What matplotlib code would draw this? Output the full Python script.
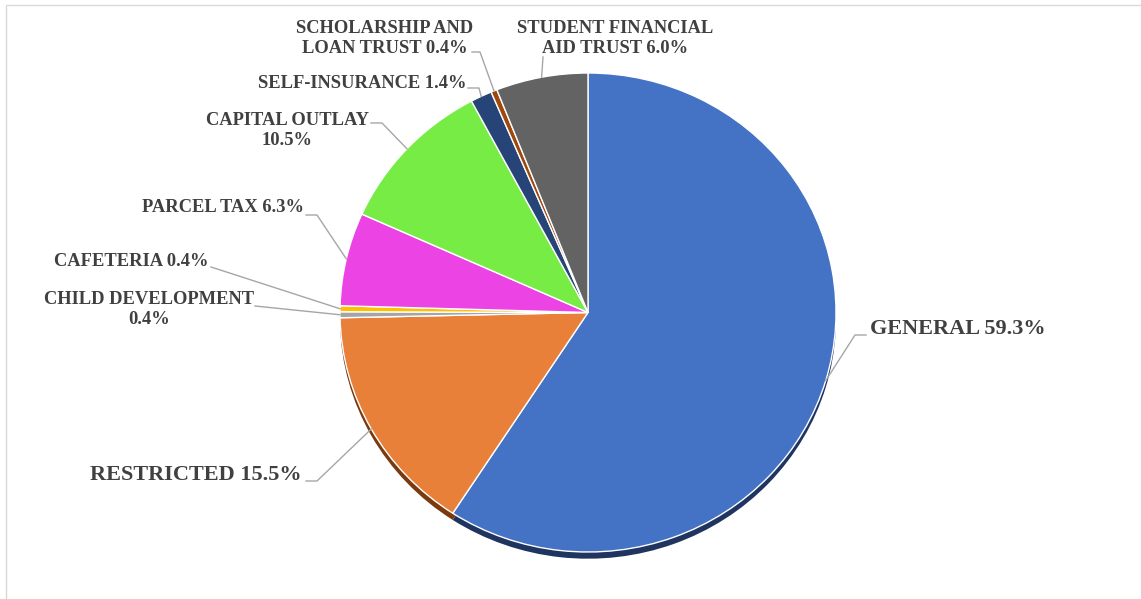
import numpy as np
import matplotlib
matplotlib.use('Agg')
import matplotlib.pyplot as plt
from matplotlib.patches import Rectangle

# fund shares (%), clockwise from 12 o'clock
funds = ['GENERAL', 'RESTRICTED', 'CHILD DEVELOPMENT', 'CAFETERIA', 'PARCEL TAX',
         'CAPITAL OUTLAY', 'SELF-INSURANCE', 'SCHOLARSHIP AND\nLOAN TRUST',
         'STUDENT FINANCIAL\nAID TRUST']
shares = [59.3, 15.5, 0.4, 0.4, 6.3, 10.5, 1.4, 0.4, 6.0]
breaks = [' ', ' ', '\n', ' ', ' ', '\n', ' ', ' ', ' ']

colors = ['#4472C4', '#E8803A', '#A5A5A5', '#FFC000', '#EC44E4',
          '#77EC44', '#264478', '#9E480E', '#636363']
shadow = ['#1F3560', '#7A3A10', '#555555', '#806000', '#761F72',
          '#3B7622', '#13223C', '#4F2407', '#323232']

W, H = 1141, 599
fig = plt.figure(figsize=(W / 100, H / 100), dpi=100)

# pie axes placed on the (slightly flattened) ellipse of the pie
left, right, top, bottom = 340, 836, 73, 552
ax_pie = fig.add_axes([left / W, (H - bottom) / H, (right - left) / W, (bottom - top) / H])
sh, _ = ax_pie.pie(shares, colors=shadow, startangle=90, counterclock=False,
                   center=(0, -0.028), wedgeprops=dict(linewidth=0))
for p in sh:
    p.set_clip_on(False)
wedges, _ = ax_pie.pie(shares, colors=colors, startangle=90, counterclock=False,
                       wedgeprops=dict(edgecolor='white', linewidth=1))
ax_pie.set_aspect('auto')
ax_pie.set_xlim(-1, 1)
ax_pie.set_ylim(-1, 1)
ax_pie.axis('off')

# overlay in pixel coordinates for labels and leader lines
ax = fig.add_axes([0, 0, 1, 1])
ax.set_xlim(0, W)
ax.set_ylim(H, 0)
ax.axis('off')
ax.add_patch(Rectangle((6, 5), 1300, 700, fill=False, edgecolor='#D9D9D9', lw=1, clip_on=False))

# text x, text y, alignment, font size, leader points before the wedge
layout = [
    (870, 328.5, 'left', 16, [(866, 335), (855, 335)]),
    (302, 474.5, 'right', 16, [(306, 481), (317, 481)]),
    (149, 309.5, 'center', 13.3, [(255, 306)]),
    (208, 262, 'right', 13.3, [(211, 267)]),
    (304, 208, 'right', 13.3, [(306, 215), (317, 215)]),
    (287, 130.5, 'center', 13.3, [(371, 123), (382, 123)]),
    (466, 83, 'right', 13.3, [(468, 88), (479, 88)]),
    (385, 38.5, 'center', 13.3, [(472, 52), (480, 52)]),
    (615, 38.5, 'center', 13.3, [(543, 57)]),
]

for w, name, val, sep, (tx, ty, ha, fs, pts) in zip(wedges, funds, shares, breaks, layout):
    ang = np.deg2rad((w.theta1 + w.theta2) / 2)
    dx, dy = ax_pie.transData.transform((np.cos(ang), np.sin(ang)))
    anchor = (dx, H - dy)
    xs = [p[0] for p in pts] + [anchor[0]]
    ys = [p[1] for p in pts] + [anchor[1]]
    ax.plot(xs, ys, color='#A6A6A6', lw=1)
    ax.text(tx, ty, f'{name}{sep}{val:.1f}%', ha=ha, va='center', fontsize=fs,
            fontfamily='Liberation Serif', fontweight='bold', color='#404040',
            multialignment='center', linespacing=1.2)

fig.savefig('out.png', dpi=100)
